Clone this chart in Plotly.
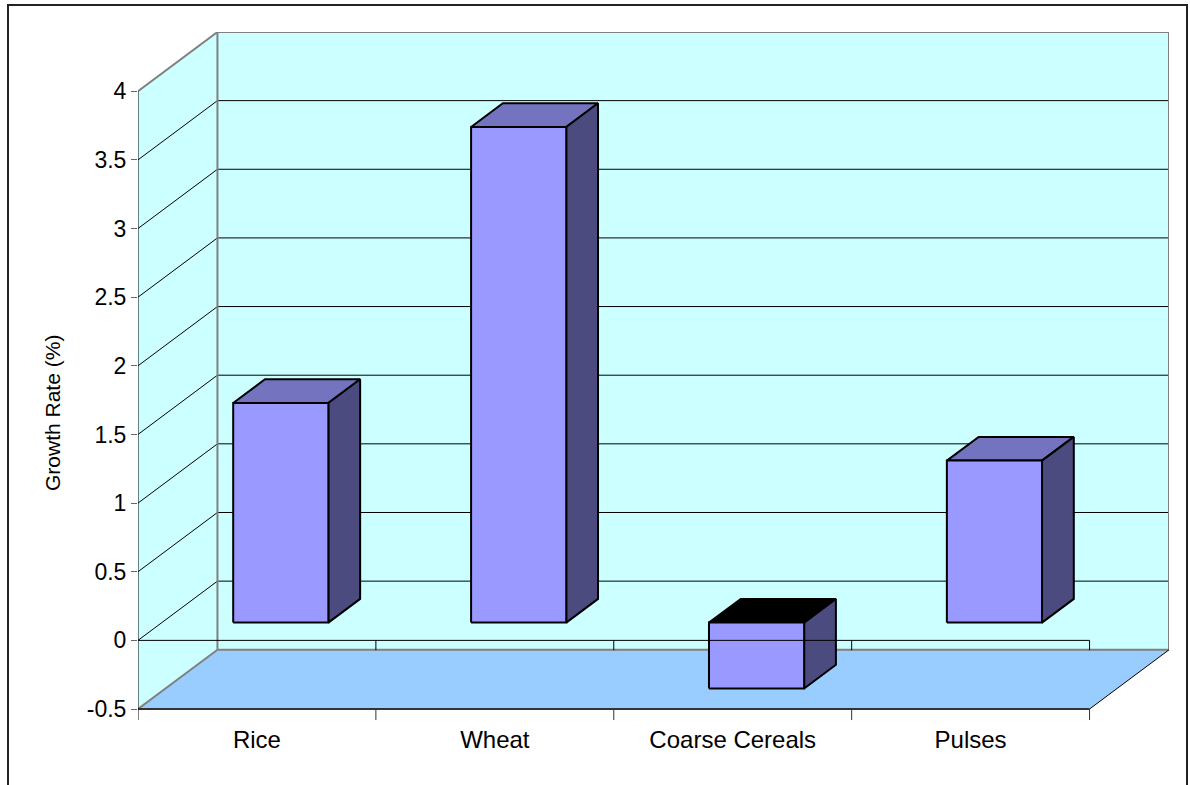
import plotly.graph_objects as go

# ---------------- data ----------------
categories = ["Rice", "Wheat", "Coarse Cereals", "Pulses"]
growth_rate = [1.6, 3.61, -0.48, 1.18]
y_ticks = [-0.5, 0, 0.5, 1, 1.5, 2, 2.5, 3, 3.5, 4]
y_title = "Growth Rate (%)"

# ---------------- style / geometry ----------------
Y_MIN, Y_MAX = -0.5, 4.0
X_LO, X_HI = -0.5, len(categories) - 0.5
DX, DY = 0.334, 0.4316        # full wall depth expressed in axis units
Z0, Z1 = 0.30, 0.70           # depth span of bars (fraction of wall depth)
HALF_W = 0.2                  # half bar width (category units)
TICK_DN = 0.08                # length of category ticks (y units)

WALL = "#CCFFFF"
FLOOR = "#99CCFF"
EDGE = "#808080"
FRONT = "#9999FF"
TOP = "#7373BF"
SIDE = "#4B4B7F"
FONT = "Arial, 'Liberation Sans', sans-serif"

W, H = 1190, 785
ML, MR, MT, MB = 138, 21, 32, 65
PW, PH = W - ML - MR, H - MT - MB

fig = go.Figure()


def path(xs, ys, fill=None, color="black", width=1.0):
    xs, ys = list(xs), list(ys)
    if fill is not None:
        xs.append(xs[0])
        ys.append(ys[0])
    fig.add_trace(go.Scatter(
        x=xs, y=ys, mode="lines",
        fill="toself" if fill is not None else None,
        fillcolor=fill,
        line=dict(color=color if width > 0 else "rgba(0,0,0,0)", width=max(width, 0.01)),
        hoverinfo="skip", showlegend=False,
    ))


# walls and floor
path([X_LO, X_LO, X_LO + DX, X_LO + DX], [Y_MIN, Y_MAX, Y_MAX + DY, Y_MIN + DY], fill=WALL, width=0)
path([X_LO + DX, X_HI + DX, X_HI + DX, X_LO + DX],
     [Y_MIN + DY, Y_MIN + DY, Y_MAX + DY, Y_MAX + DY], fill=WALL, width=0)
path([X_LO, X_HI, X_HI + DX, X_LO + DX], [Y_MIN, Y_MIN, Y_MIN + DY, Y_MIN + DY], fill=FLOOR, width=0)

# gridlines (side wall diagonal + back wall horizontal)
for t in y_ticks:
    if Y_MIN < t < Y_MAX:
        path([X_LO, X_LO + DX, X_HI + DX], [t, t + DY, t + DY], color="black", width=1)

# wall edges
path([X_LO + DX, X_LO + DX, X_HI + DX, X_HI + DX, X_LO + DX],
     [Y_MIN + DY, Y_MAX + DY, Y_MAX + DY, Y_MIN + DY, Y_MIN + DY], color=EDGE, width=2)
path([X_LO, X_LO + DX], [Y_MAX, Y_MAX + DY], color=EDGE, width=2)
path([X_LO, X_LO + DX], [Y_MIN, Y_MIN + DY], color=EDGE, width=2)
path([X_HI, X_HI + DX], [Y_MIN, Y_MIN + DY], color="black", width=1)
path([X_LO, X_HI], [Y_MIN, Y_MIN], color="#333333", width=2)

# bars
for i, v in enumerate(growth_rate):
    lo, hi = min(0, v), max(0, v)
    x0, x1 = i - HALF_W, i + HALF_W
    fx, fy = Z0 * DX, Z0 * DY
    bx, by = Z1 * DX, Z1 * DY
    top_col = TOP if v >= 0 else "black"
    path([x0 + fx, x1 + fx, x1 + bx, x0 + bx], [hi + fy, hi + fy, hi + by, hi + by],
         fill=top_col, color="black", width=2)
    path([x1 + fx, x1 + fx, x1 + bx, x1 + bx], [lo + fy, hi + fy, hi + by, lo + by],
         fill=SIDE, color="black", width=2)
    path([x0 + fx, x1 + fx, x1 + fx, x0 + fx], [lo + fy, lo + fy, hi + fy, hi + fy],
         fill=FRONT, color="black", width=2)

# front zero line with ticks
path([X_LO, X_HI], [0, 0], color="black", width=1)
for k in range(len(categories)):
    b = k + 0.5
    path([b, b], [0, -TICK_DN * 0.9], color="black", width=1)
    path([b, b], [Y_MIN, Y_MIN - TICK_DN], color="#333333", width=1)

# front value axis
path([X_LO, X_LO], [Y_MIN - TICK_DN, Y_MAX], color="black", width=1)

fig.update_layout(
    width=W, height=H,
    margin=dict(l=ML, r=MR, t=MT, b=MB, autoexpand=False),
    paper_bgcolor="white", plot_bgcolor="white",
    showlegend=False,
    font=dict(family=FONT, color="black"),
    xaxis=dict(
        range=[X_LO, X_HI + DX], showgrid=False, zeroline=False, showline=False,
        tickvals=list(range(len(categories))), ticktext=categories,
        ticks="", ticklabelstandoff=3,
        tickfont=dict(size=24, family=FONT), fixedrange=True,
    ),
    yaxis=dict(
        range=[Y_MIN - TICK_DN, Y_MAX + DY], showgrid=False, zeroline=False, showline=False,
        tickvals=y_ticks, ticktext=[f"{t:g}" for t in y_ticks],
        ticks="outside", ticklen=6, tickcolor="#666666", tickwidth=1,
        tickfont=dict(size=23, family=FONT), fixedrange=True,
    ),
    annotations=[dict(
        text=y_title, textangle=-90, showarrow=False,
        xref="paper", yref="paper",
        x=(52 - ML) / PW, y=(H - MB - 413) / PH,
        xanchor="center", yanchor="middle",
        font=dict(size=21, family=FONT),
    )],
    shapes=[dict(
        type="rect", xref="paper", yref="paper",
        x0=(8 - ML) / PW, x1=(1187 - ML) / PW,
        y0=(H - MB - 800) / PH, y1=(H - MB - 5) / PH,
        line=dict(color="#222222", width=2), layer="above",
    )],
)

fig.write_html(
    "out.html",
    config={"displayModeBar": False},
    post_script="document.body.style.margin='0px';document.body.style.overflow='hidden';",
)
